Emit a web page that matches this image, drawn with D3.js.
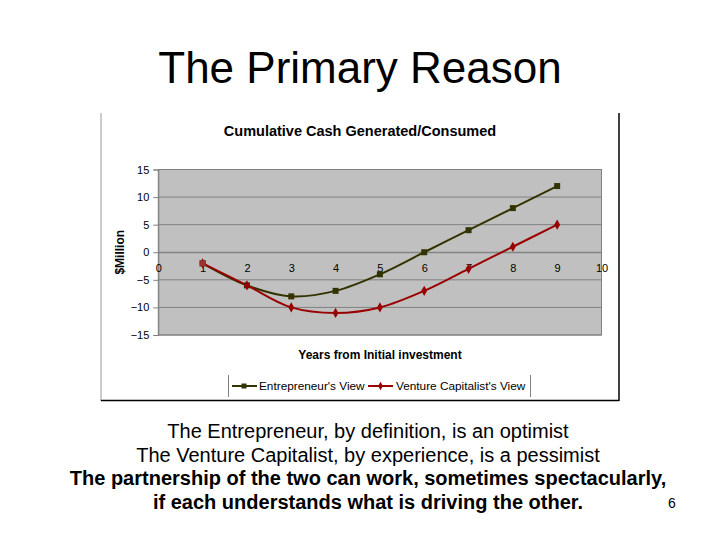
<!DOCTYPE html>
<html><head><meta charset="utf-8">
<script src="https://cdn.jsdelivr.net/npm/d3@7"></script>
<style>body{margin:0;background:#fff;}svg{display:block;font-family:Arial,"Liberation Sans",sans-serif;}</style>
</head><body>
<svg id="c" width="720" height="540"></svg>
<script>
const years = [1,2,3,4,5,6,7,8,9];
const entrepreneur = [-2,-6,-8,-7,-4,0,4,8,12];
const ventureCapitalist = [-2,-6,-10,-11,-10,-7,-3,1,5];
const xTicks = [0,1,2,3,4,5,6,7,8,9,10];
const yTicks = [-15,-10,-5,0,5,10,15];
const seriesNames = ["Entrepreneur's View","Venture Capitalist's View"];
const slideTitle = "The Primary Reason";
const chartTitle = "Cumulative Cash Generated/Consumed";
const bodyLines = [
  {t:"The Entrepreneur, by definition, is an optimist", b:false},
  {t:"The Venture Capitalist, by experience, is a pessimist", b:false},
  {t:"The partnership of the two can work, sometimes spectacularly,", b:true},
  {t:"if each understands what is driving the other.", b:true}
];

const svg = d3.select("#c");
svg.append("text").attr("x",360).attr("y",83).attr("text-anchor","middle")
  .attr("font-size",44).attr("fill","#000").text(slideTitle);

// chart frame
svg.append("line").attr("x1",101).attr("x2",101).attr("y1",113).attr("y2",401).attr("stroke","#999").attr("stroke-width",1);
svg.append("line").attr("x1",619).attr("x2",619).attr("y1",113).attr("y2",401).attr("stroke","#000").attr("stroke-width",1.5);
svg.append("line").attr("x1",101).attr("x2",619).attr("y1",400.5).attr("y2",400.5).attr("stroke","#000").attr("stroke-width",1.5);

svg.append("text").attr("x",360).attr("y",135.5).attr("text-anchor","middle")
  .attr("font-size",14.5).attr("font-weight","bold").text(chartTitle);

const x = d3.scaleLinear().domain([0,10]).range([158.3,601.5]);
const y = d3.scaleLinear().domain([-15,15]).range([335,169.5]);

svg.append("rect").attr("x",x(0)).attr("y",y(15)).attr("width",x(10)-x(0)).attr("height",y(-15)-y(15))
  .attr("fill","#c0c0c0").attr("stroke","#808080").attr("stroke-width",1);

// gridlines
svg.append("g").selectAll("line").data(yTicks).join("line")
  .attr("x1",x(0)).attr("x2",x(10)).attr("y1",d=>y(d)).attr("y2",d=>y(d))
  .attr("stroke","#808080").attr("stroke-width",1);

// y axis
const yAxis = d3.axisLeft(y).tickValues(yTicks).tickSize(5).tickPadding(4).tickFormat(d3.format("d"));
const gy = svg.append("g").attr("transform",`translate(${x(0)},0)`).call(yAxis);
gy.select(".domain").attr("stroke","#808080");
gy.selectAll(".tick line").attr("stroke","#808080");
gy.selectAll("text").attr("font-size",11).attr("fill","#000").attr("font-family","Arial");

// x axis at y=0
const xAxis = d3.axisBottom(x).tickValues(xTicks).tickSize(0).tickPadding(12).tickFormat(d3.format("d"));
const gx = svg.append("g").attr("transform",`translate(0,${y(0)})`).call(xAxis);
gx.select(".domain").attr("stroke","#808080");
gx.selectAll("text").attr("font-size",11).attr("fill","#000").attr("font-family","Arial");

svg.append("text").attr("transform",`translate(124,${y(0)}) rotate(-90)`).attr("text-anchor","middle")
  .attr("font-size",12).attr("font-weight","bold").text("$Million");
svg.append("text").attr("x",380).attr("y",359).attr("text-anchor","middle")
  .attr("font-size",12).attr("font-weight","bold").text("Years from Initial investment");

const line = d3.line().x(d=>x(d[0])).y(d=>y(d[1])).curve(d3.curveCatmullRom.alpha(0.5));
const colE = "#333300", colV = "#990000";
const dE = years.map((v,i)=>[v,entrepreneur[i]]);
const dV = years.map((v,i)=>[v,ventureCapitalist[i]]);
svg.append("path").datum(dE).attr("d",line).attr("fill","none").attr("stroke",colE).attr("stroke-width",2);
svg.append("path").datum(dV).attr("d",line).attr("fill","none").attr("stroke",colV).attr("stroke-width",2);
svg.append("g").selectAll("rect").data(dE).join("rect")
  .attr("x",d=>x(d[0])-3).attr("y",d=>y(d[1])-3).attr("width",6).attr("height",6).attr("fill",colE);
const diamond = d3.symbol().type(d3.symbolDiamond).size(30);
svg.append("g").selectAll("path").data(dV).join("path")
  .attr("transform",d=>`translate(${x(d[0])},${y(d[1])})`).attr("d",diamond).attr("fill",colV);
svg.append("rect").datum(dE[0]).attr("x",d=>x(d[0])-3).attr("y",d=>y(d[1])-3).attr("width",6).attr("height",6).attr("fill","#993333");

// legend
const lg = svg.append("g");
lg.append("line").attr("x1",228.5).attr("x2",228.5).attr("y1",375).attr("y2",397).attr("stroke","#808080");
lg.append("line").attr("x1",530.5).attr("x2",530.5).attr("y1",375).attr("y2",397).attr("stroke","#808080");
const ly = 386;
lg.append("line").attr("x1",232).attr("x2",257).attr("y1",ly).attr("y2",ly).attr("stroke",colE).attr("stroke-width",2);
lg.append("rect").attr("x",241.5).attr("y",ly-2.5).attr("width",5).attr("height",5).attr("fill",colE);
lg.append("text").attr("x",259).attr("y",ly+4).attr("font-size",11.8).text(seriesNames[0]);
lg.append("line").attr("x1",368).attr("x2",393).attr("y1",ly).attr("y2",ly).attr("stroke",colV).attr("stroke-width",2);
lg.append("path").attr("transform",`translate(380.5,${ly})`).attr("d",d3.symbol().type(d3.symbolDiamond).size(20)).attr("fill",colV);
lg.append("text").attr("x",396).attr("y",ly+4).attr("font-size",11.8).text(seriesNames[1]);

// body text
const ys = [438,462,485,509];
svg.append("g").selectAll("text").data(bodyLines).join("text")
  .attr("x",368).attr("y",(d,i)=>ys[i]).attr("text-anchor","middle")
  .attr("font-size",20).attr("font-weight",d=>d.b?"bold":"normal").text(d=>d.t);
svg.append("text").attr("x",672).attr("y",508).attr("text-anchor","middle").attr("font-size",14).text("6");
</script>
</body></html>
